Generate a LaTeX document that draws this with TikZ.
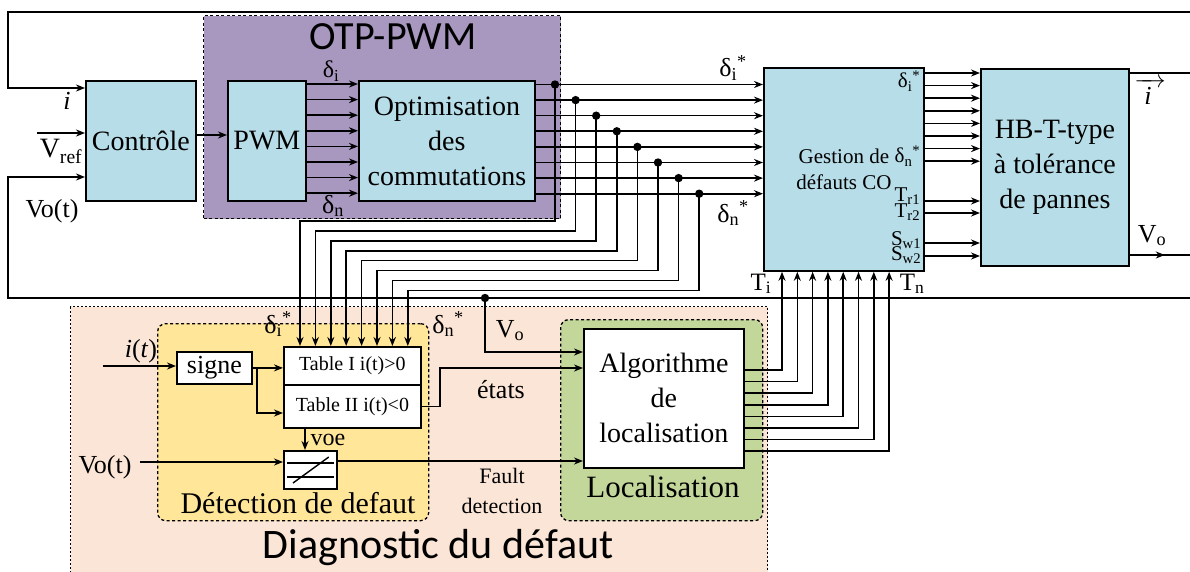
\documentclass[tikz,border=0pt]{standalone}
\usepackage{amsmath}
\usepackage{fontspec}
\setmainfont{Liberation Serif}
\newfontfamily\calibri{Carlito}
\usetikzlibrary{arrows.meta,calc,positioning}
\definecolor{boxblue}{HTML}{B7DDE8}
\definecolor{otpviolet}{HTML}{A898C0}
\definecolor{diagpeach}{HTML}{FBE5D6}
\definecolor{detyellow}{HTML}{FFE699}
\definecolor{locgreen}{HTML}{C4D79B}
\newcommand{\fsz}[2]{\fontsize{#1}{#2}\selectfont}

\begin{document}
\begin{tikzpicture}[x=1pt,y=-1pt,>={Stealth[length=9pt,width=7pt]},line width=1.6pt,
  blk/.style={draw,fill=boxblue,line width=1.8pt,anchor=north west,inner sep=0pt,align=center,font=\fsz{28}{35}},
  wblk/.style={blk,fill=white},
  grp/.style={draw,line width=1.3pt,dash pattern=on 3pt off 2.5pt,anchor=north west,inner sep=0pt},
  lbl/.style={inner sep=0pt,anchor=base,font=\fsz{26}{30}},
  glbl/.style={inner sep=0pt,anchor=base east,font=\fsz{21}{24}}]
  \useasboundingbox (0,0) rectangle (1190,572);

  % zones
  \node[grp,fill=diagpeach,dash pattern=on 2pt off 2pt,minimum width=697pt,minimum height=290pt] (diag) at (70,306) {};
  \node[grp,fill=otpviolet,minimum width=357pt,minimum height=203pt] (otp) at (203,15) {};
  \node[grp,fill=detyellow,rounded corners=8pt,minimum width=271pt,minimum height=197pt] (det) at (157,323) {};
  \node[grp,fill=locgreen,rounded corners=8pt,minimum width=202pt,minimum height=201pt] (loc) at (560,319) {};
  \node[inner sep=0pt,anchor=base,font=\calibri\fsz{40}{40}] (otpt) at (393,50) {OTP-PWM};
  \node[inner sep=0pt,anchor=base,font=\calibri\fsz{42}{42}] (diagt) at (438,558) {Diagnostic du défaut};
  \node[inner sep=0pt,anchor=base,font=\fsz{30}{30}] (dett) at (298,513) {Détection de defaut};
  \node[inner sep=0pt,anchor=base,font=\fsz{31}{31}] (loct) at (663,497) {Localisation};

  % blocks
  \node[blk,minimum width=110pt,minimum height=120pt] (ctrl) at (85,80) {Contrôle};
  \node[blk,minimum width=78pt,minimum height=120pt] (pwm) at (227,80) {PWM};
  \node[blk,minimum width=176pt,minimum height=120pt] (opt) at (358,80) {Optimisation\\des\\commutations};
  \node[blk,minimum width=160pt,minimum height=203pt,font=\fsz{21}{26}] (gest) at (763,67) {Gestion de\\défauts CO};
  \node[blk,minimum width=148pt,minimum height=197pt] (hb) at (980,68) {HB-T-type\\à tolérance\\de pannes};
  \node[wblk,minimum width=75pt,minimum height=32pt,font=\fsz{26}{30}] (signe) at (176,351) {signe};
  \node[wblk,minimum width=137pt,minimum height=38pt,font=\fsz{20}{24}] (tabA) at (283,346) {Table I i(t)>0};
  \node[wblk,minimum width=137pt,minimum height=43pt,font=\fsz{20}{24}] (tabB) at (283,384) {Table II i(t)<0};
  \node[wblk,minimum width=53pt,minimum height=38pt] (cmp) at (283,450) {};
  \node[wblk,minimum width=160pt,minimum height=139pt] (alg) at (583,328) {Algorithme\\de\\localisation};
  \draw[line width=1.4pt] ($(cmp.north west)+(4,13)$) -- ($(cmp.north east)+(-4,13)$);
  \draw[line width=1.4pt] ($(cmp.north west)+(4,27)$) -- ($(cmp.north east)+(-4,27)$);
  \draw[line width=1.4pt] ($(cmp.north west)+(10,33)$) -- ($(cmp.north east)+(-9,7)$);

  % outer loops
  \coordinate (rtop) at (1190,12);
  \coordinate (rbot) at (1190,298);
  \coordinate (vref) at (37,133);
  \draw[->] (rtop) -- (8,12) |- (ctrl.west |- 0,88);
  \draw[->] (rbot) -- (8,298) |- (ctrl.west |- 0,177);
  \draw[->] (vref) -- (ctrl.west |- vref);
  \draw[->] (ctrl.east |- 0,135) -- (pwm.west |- 0,135);
  \draw (hb.east |- 0,73) -- (rtop |- 0,73);
  \draw (hb.east |- 0,255) -- (rbot |- 0,255);
  \draw[->] (hb.east |- 0,255) -- ++(35,0);

  % PWM -> optimisation
  \foreach \k in {0,...,7}{
    \pgfmathsetmacro\yy{84+15.6*\k}
    \draw[->] (pwm.east |- 0,\yy) -- (opt.west |- 0,\yy);
  }

  % optimisation -> gestion, copies to the tables
  \foreach \k in {0,...,7}{
    \pgfmathsetmacro\yy{84.5+15.6*\k}
    \pgfmathsetmacro\xd{555+20.6*\k}
    \pgfmathsetmacro\hh{221+9.9*\k}
    \pgfmathsetmacro\xv{300+15.4*\k}
    \coordinate (d\k) at (\xd,\yy);
    \draw[->] (opt.east |- 0,\yy) -- (gest.west |- 0,\yy);
    \fill (d\k) circle (4.2pt);
    \draw[->] (d\k) |- (\xv,\hh) -- (tabA.north -| \xv,0);
  }

  % gestion -> onduleur
  \foreach \k in {0,...,7}{
    \pgfmathsetmacro\yy{73+12.6*\k}
    \draw[->] (gest.east |- 0,\yy) -- (hb.west |- 0,\yy);
  }
  \foreach \yy in {201,213,243,256}
    \draw[->] (gest.east |- 0,\yy) -- (hb.west |- 0,\yy);

  % localisation -> gestion
  \foreach \k in {0,...,7}{
    \pgfmathsetmacro\yy{370+11.6*\k}
    \pgfmathsetmacro\xx{782+15.3*\k}
    \draw[->] (alg.east |- 0,\yy) -| (gest.south -| \xx,0);
  }

  % detection
  \coordinate (iin) at (103,366);
  \coordinate (voin) at (140,462);
  \coordinate (br) at (257,367);
  \coordinate (vodot) at (485,298);
  \draw[->] (iin) -- (signe.west |- iin);
  \draw[->] (signe.east) -- (tabA.west |- signe.east);
  \draw[->] (br) |- (tabB.west |- 0,413);
  \draw[->] (tabB.south -| 305,0) -- (cmp.north -| 305,0);
  \draw[->] (voin) -- (cmp.west |- voin);
  \draw[->] (cmp.east |- 0,461) -- (alg.west |- 0,461);
  \draw[->] (tabB.east) -- ++(18,0) |- (alg.west |- 0,368);
  \fill (vodot) circle (4.2pt);
  \draw[->] (vodot) |- (alg.west |- 0,352);

  % labels
  \node[lbl,font=\fsz{26}{30}\itshape] (li) at (67,110) {i};
  \node[lbl,font=\fsz{28}{30}] (lvref) at (61,158) {V\textsubscript{ref}};
  \node[lbl] (lvot) at (52,217) {Vo(t)};
  \node[lbl,font=\fsz{24}{28}] (ldi) at (331,78) {δ\textsubscript{i}};
  \node[lbl] (ldn) at (333,213) {δ\textsubscript{n}};
  \node[lbl] (ldis) at (733,77) {δ\textsubscript{i}\textsuperscript{*}};
  \node[lbl] (ldns) at (733,222) {δ\textsubscript{n}\textsuperscript{*}};
  \node[lbl] (ltdi) at (278,333) {δ\textsubscript{i}\textsuperscript{*}};
  \node[lbl] (ltdn) at (448,333) {δ\textsubscript{n}\textsuperscript{*}};
  \node[lbl] (lvo) at (510,337) {V\textsubscript{o}};
  \node[lbl] (letats) at (501,398) {états};
  \node[inner sep=0pt,align=center,font=\fsz{22}{30}] (lfault) at (502,491) {Fault\\detection};
  \node[lbl,font=\fsz{24}{28}] (lvoe) at (328,445) {voe};
  \node[lbl] (litin) at (141,357) {\textit{i}(\textit{t})};
  \node[lbl] (lvotc) at (105,473) {Vo(t)};
  \node[lbl,font=\fsz{25}{28}] (lti) at (761,290) {T\textsubscript{i}};
  \node[lbl,font=\fsz{25}{28}] (ltn) at (912,290) {T\textsubscript{n}};
  \node[lbl] (lvor) at (1152,242) {V\textsubscript{o}};
  \node[lbl] (liout) at (1150,105) {$\overrightarrow{\hspace{10pt}\mbox{\itshape i}\hspace{14pt}}$};
  \node[glbl] (gdi) at (921,88) {δ\textsubscript{i}\textsuperscript{*}};
  \node[glbl] (gdn) at (921,163) {δ\textsubscript{n}\textsuperscript{*}};
  \node[glbl] (gtr1) at (921,201) {T\textsubscript{r1}};
  \node[glbl] (gtr2) at (921,217) {T\textsubscript{r2}};
  \node[glbl] (gsw1) at (922,245) {S\textsubscript{w1}};
  \node[glbl] (gsw2) at (922,260) {S\textsubscript{w2}};
\end{tikzpicture}
\end{document}
